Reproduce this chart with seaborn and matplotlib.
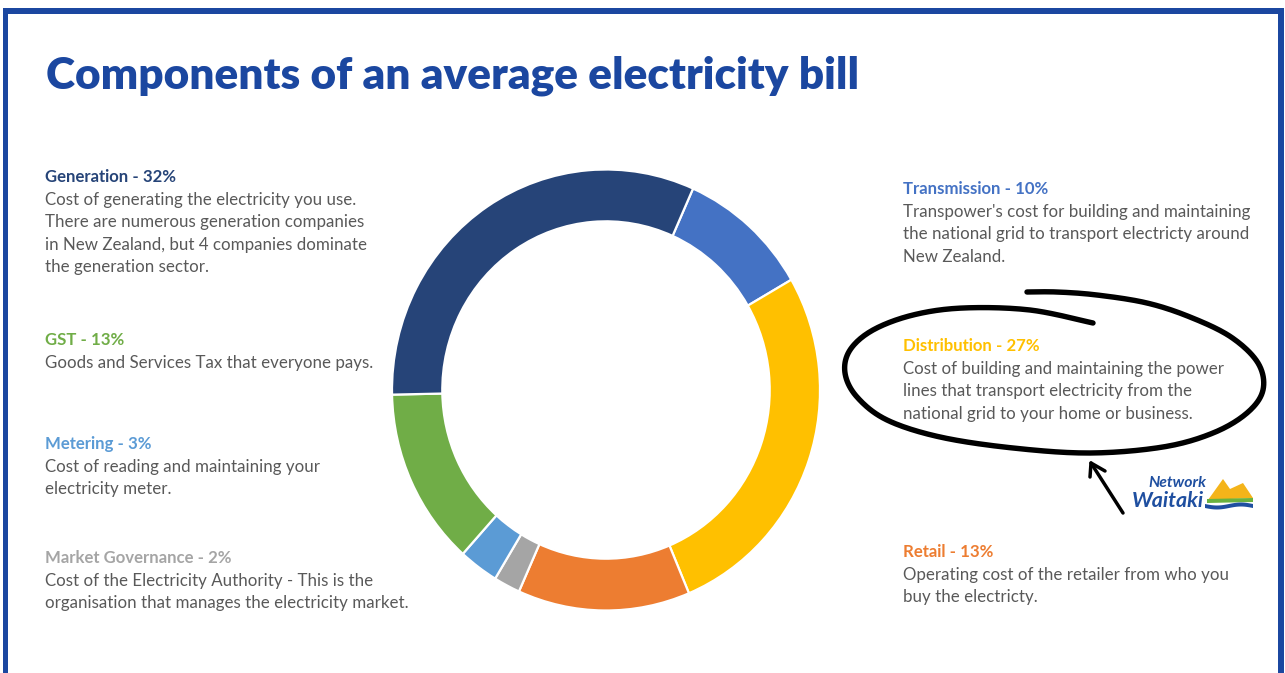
import numpy as np
import matplotlib
matplotlib.use("Agg")
import matplotlib.pyplot as plt
import seaborn as sns
from matplotlib.patches import Rectangle, Polygon

sns.set_theme(style="white")
plt.rcParams['font.family'] = ['Lato', 'DejaVu Sans']

# ---------------- data ----------------
title = "Components of an average electricity bill"
categories = ["Transmission", "Distribution", "Retail", "Market Governance",
              "Metering", "GST", "Generation"]
shares = [10, 27, 13, 2, 3, 13, 32]
colors = ["#4472C4", "#FFC000", "#ED7D31", "#A5A5A5", "#5B9BD5", "#70AD47", "#264478"]
descriptions = {
    "Generation": ["Cost of generating the electricity you use.",
                   "There are numerous generation companies",
                   "in New Zealand, but 4 companies dominate",
                   "the generation sector."],
    "GST": ["Goods and Services Tax that everyone pays."],
    "Metering": ["Cost of reading and maintaining your",
                 "electricity meter."],
    "Market Governance": ["Cost of the Electricity Authority - This is the",
                          "organisation that manages the electricity market."],
    "Transmission": ["Transpower's cost for building and maintaining",
                     "the national grid to transport electricty around",
                     "New Zealand."],
    "Distribution": ["Cost of building and maintaining the power",
                     "lines that transport electricity from the",
                     "national grid to your home or business."],
    "Retail": ["Operating cost of the retailer from who you",
               "buy the electricty."],
}

# ---------------- layout ----------------
W, H = 1285, 673
fig = plt.figure(figsize=(W / 100, H / 100), dpi=100)
fig.patch.set_facecolor("white")
bg = fig.add_axes([0, 0, 1, 1])
bg.set_xlim(0, W)
bg.set_ylim(H, 0)
bg.axis("off")
renderer = fig.canvas.get_renderer()

def fit(text, target, **kw):
    t = bg.text(0, 0, text, fontsize=10, **kw)
    w = t.get_window_extent(renderer).width
    t.remove()
    return 10 * target / w

BLUE = "#1B47A0"
# frame
bg.add_patch(Rectangle((3, 8), W - 6, 6, color=BLUE, lw=0))
bg.add_patch(Rectangle((3, 8), 5, H, color=BLUE, lw=0))
bg.add_patch(Rectangle((1278, 8), 6, H, color=BLUE, lw=0))

# title
title_fs = fit(title, 816, fontweight="heavy")
bg.text(46, 88, title, fontsize=title_fs, fontweight="heavy", color=BLUE, va="baseline")

body_fs = fit("Goods and Services Tax that everyone pays.", 326)
head_fs = fit("Market Governance - 2%", 188, fontweight="bold")
LS = 22.6
blocks = [("Generation", 45, 182), ("GST", 45, 345), ("Metering", 45, 449),
          ("Market Governance", 45, 563), ("Transmission", 903, 194),
          ("Distribution", 903, 351), ("Retail", 903, 557)]
for name, x, yb in blocks:
    i = categories.index(name)
    bg.text(x, yb, f"{name} - {shares[i]}%", fontsize=head_fs, fontweight="bold",
            color=colors[i], va="baseline")
    for k, line in enumerate(descriptions[name]):
        bg.text(x, yb + LS * (k + 1), line, fontsize=body_fs, color="#595959",
                va="baseline")

# hand-drawn loop around Distribution
pts = np.array([(1093, 323), (1030, 310), (963, 308), (913, 315), (873, 330),
                (850, 350), (845, 373), (857, 397), (887, 420), (940, 437),
                (1013, 448), (1090, 453), (1163, 447), (1213, 433), (1247, 413),
                (1263, 390), (1258, 363), (1231, 337), (1190, 317), (1147, 303),
                (1097, 295), (1057, 292), (1027, 292)], float)

def catmull(p, n=20):
    p = np.vstack([p[0], p, p[-1]])
    out = []
    for i in range(1, len(p) - 2):
        p0, p1, p2, p3 = p[i - 1], p[i], p[i + 1], p[i + 2]
        for t in np.linspace(0, 1, n, endpoint=False):
            out.append(0.5 * ((2 * p1) + (-p0 + p2) * t +
                              (2 * p0 - 5 * p1 + 4 * p2 - p3) * t ** 2 +
                              (-p0 + 3 * p1 - 3 * p2 + p3) * t ** 3))
    out.append(p[-2])
    return np.array(out)

c = catmull(pts)
bg.plot(c[:, 0], c[:, 1], color="black", lw=3.9, solid_capstyle="round")
# arrow
bg.plot([1123, 1091], [513, 463], color="black", lw=2.5, solid_capstyle="round")
bg.plot([1090, 1091, 1105], [477, 463, 471], color="black", lw=2.5,
        solid_capstyle="round", solid_joinstyle="round")

# logo
LB = "#1F4FA0"
net_fs = fit("Network", 58, fontweight="bold", style="italic")
wai_fs = fit("Waitaki", 72, fontweight="bold", style="italic")
bg.text(1148, 487, "Network", fontsize=net_fs, fontweight="bold", style="italic",
        color=LB, va="baseline")
bg.text(1132, 507, "Waitaki", fontsize=wai_fs, fontweight="bold", style="italic",
        color=LB, va="baseline")
bg.add_patch(Polygon([(1208, 500), (1223, 479), (1230, 489), (1243, 483),
                      (1253, 498)], closed=True, color="#F4B41A", lw=0))
bg.add_patch(Polygon([(1207, 499), (1253, 498), (1253, 502), (1207, 503)],
                     closed=True, color="#6AB23E", lw=0))
xs = np.linspace(1205, 1253, 30)
top = 504 + 1.5 * np.sin((xs - 1205) / 48 * 2 * np.pi)
bot = top + 4
bg.add_patch(Polygon(np.column_stack([np.r_[xs, xs[::-1]], np.r_[top, bot[::-1]]]),
                     closed=True, color=LB, lw=0))

# donut
cx, cy, rx, ry = 606, 390, 214, 220.5
ax = fig.add_axes([(cx - rx) / W, (H - cy - ry) / H, 2 * rx / W, 2 * ry / H])
ax.pie(shares, colors=colors, startangle=66, counterclock=False, radius=1,
       wedgeprops=dict(width=0.235, edgecolor="white", linewidth=1.6))
ax.set_aspect("auto")
ax.set_xlim(-1, 1)
ax.set_ylim(-1, 1)
ax.axis("off")

fig.savefig("out.png", dpi=100, facecolor="white")
